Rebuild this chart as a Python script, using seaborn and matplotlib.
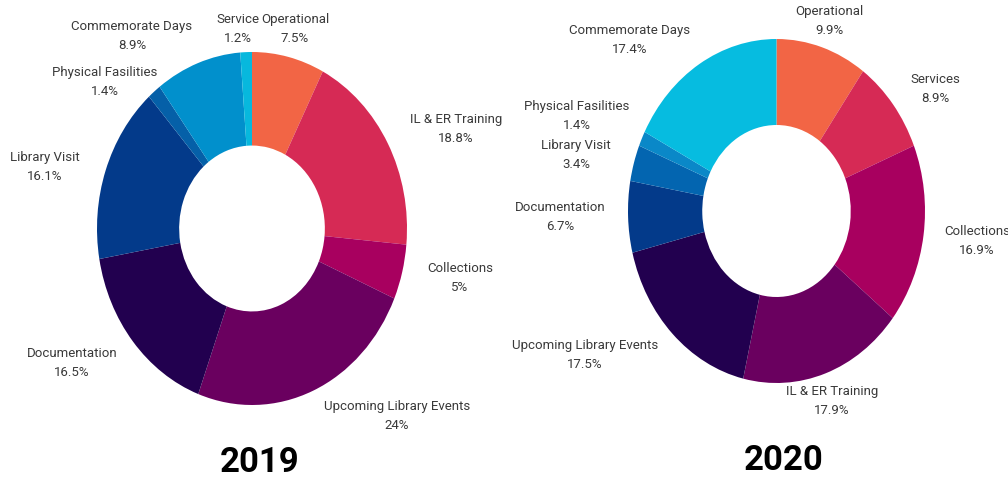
#!/usr/bin/env python3
import seaborn as sns
import matplotlib
matplotlib.use("Agg")
from matplotlib import pyplot as plt

# Data, clockwise from 12 o'clock
labels_2019 = ["Operational", "IL & ER Training", "Collections", "Upcoming Library Events",
               "Documentation", "Library Visit", "Physical Fasilities", "Commemorate Days", "Service"]
values_2019 = [7.5, 18.8, 5, 24, 16.5, 16.1, 1.4, 8.9, 1.2]
pct_2019 = ["7.5%", "18.8%", "5%", "24%", "16.5%", "16.1%", "1.4%", "8.9%", "1.2%"]

labels_2020 = ["Operational", "Services", "Collections", "IL & ER Training", "Upcoming Library Events",
               "Documentation", "Library Visit", "Physical Fasilities", "Commemorate Days"]
values_2020 = [9.9, 8.9, 16.9, 17.9, 17.5, 6.7, 3.4, 1.4, 17.4]
pct_2020 = ["9.9%", "8.9%", "16.9%", "17.9%", "17.5%", "6.7%", "3.4%", "1.4%", "17.4%"]

colors_2019 = ["#F26545", "#D62A55", "#A8005F", "#6A005F", "#22004F",
               "#033A8A", "#0560A8", "#0190CC", "#07B8DD"]
colors_2020 = ["#F26545", "#D62A55", "#A8005F", "#6A005F", "#22004F",
               "#033A8A", "#0365B0", "#0A88C8", "#06BCE0"]

# label block centres in pixels (layout only)
pos_2019 = [(295, 29), (456, 129), (460, 278), (397, 416), (72, 363),
            (45, 167), (105, 82), (132, 36), (238, 29)]
pos_2020 = [(829, 21), (935, 89), (977, 241), (832, 401), (585, 355),
            (560, 217), (576, 155), (577, 116), (630, 40)]

W, H = 1008, 482

sns.set_theme(style="white")
plt.rcParams['font.family'] = ['Roboto', 'DejaVu Sans']

fig = plt.figure(figsize=(W / 100, H / 100), dpi=100)
fig.patch.set_facecolor("white")


def donut(box, values, colors, ring):
    left, top, right, bottom = box
    ax = fig.add_axes([left / W, 1 - bottom / H, (right - left) / W, (bottom - top) / H])
    ax.pie(values, colors=sns.color_palette(colors), startangle=90, counterclock=False,
           radius=1, wedgeprops=dict(width=ring, edgecolor="none"))
    ax.set_aspect("auto")
    ax.set_xlim(-1, 1)
    ax.set_ylim(-1, 1)
    ax.axis("off")
    return ax


donut((97, 52, 407, 405), values_2019, colors_2019, 0.53)
donut((628, 39, 925, 383), values_2020, colors_2020, 0.5)

for names, pcts, pos in [(labels_2019, pct_2019, pos_2019), (labels_2020, pct_2020, pos_2020)]:
    for n, p, (x, y) in zip(names, pcts, pos):
        fig.text(x / W, 1 - y / H, n + "\n" + p, ha="center", va="center",
                 fontsize=9.5, color="#3a3a3a", linespacing=1.6)

fig.text(260 / W, 1 - 462 / H, "2019", ha="center", va="center",
         fontsize=25, fontweight="bold", color="black")
fig.text(784 / W, 1 - 461 / H, "2020", ha="center", va="center",
         fontsize=25, fontweight="bold", color="black")

fig.savefig("out.png", dpi=100, facecolor="white")
